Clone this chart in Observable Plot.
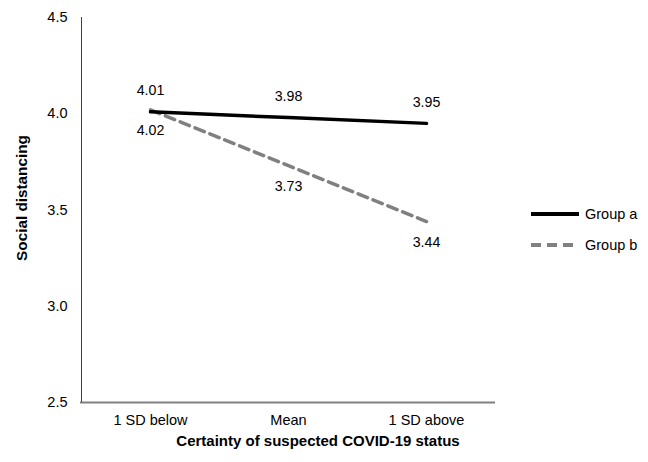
<!DOCTYPE html>
<html><head><meta charset="utf-8">
<script src="https://cdn.jsdelivr.net/npm/d3@7"></script>
<script src="https://cdn.jsdelivr.net/npm/@observablehq/plot@0.6"></script>
<style>
body{margin:0;background:#fff;font-family:"Liberation Sans",Arial,sans-serif;}
#wrap{position:relative;width:648px;height:462px;}
#legend{position:absolute;left:530px;top:198px;font-size:14.5px;color:#000;}
.item{display:flex;align-items:center;height:31px;}
.item svg{margin-right:5px;}
</style></head>
<body><div id="wrap"><div id="chart"></div><div id="legend"></div></div>
<script>
const categories = ["1 SD below", "Mean", "1 SD above"];
const groupA = [4.01, 3.98, 3.95];
const groupB = [4.02, 3.73, 3.44];
const series = ["Group a", "Group b"];
const yTicks = [2.5, 3.0, 3.5, 4.0, 4.5];
const yTitle = "Social distancing";
const xTitle = "Certainty of suspected COVID-19 status";

const rowsA = categories.map((c, i) => ({cat: c, v: groupA[i], g: series[0]}));
const rowsB = categories.map((c, i) => ({cat: c, v: groupB[i], g: series[1]}));
const fnt = "'Liberation Sans', Arial, sans-serif";

const chart = Plot.plot({
  width: 648, height: 462,
  marginLeft: 80, marginRight: 153, marginTop: 17, marginBottom: 60,
  style: {fontFamily: fnt, fontSize: "14.5px", color: "#000", background: "#fff"},
  x: {type: "point", domain: categories, padding: 0.5},
  y: {domain: [2.5, 4.5]},
  marks: [
    Plot.axisY({ticks: yTicks, tickFormat: d => d.toFixed(1), tickSize: 0, tickPadding: 13, label: null, fontSize: 14.5}),
    Plot.axisX({tickSize: 0, tickPadding: 12, label: null, fontSize: 14.5}),
    Plot.ruleY([2.5], {stroke: "#808080", strokeWidth: 1.8}),
    Plot.ruleX([categories[0]], {dx: -69, y1: 2.5, y2: 4.5, stroke: "#404040", strokeWidth: 1}),
    Plot.line(rowsB, {x: "cat", y: "v", stroke: "#808080", strokeWidth: 3.5, strokeDasharray: "10,6"}),
    Plot.line(rowsA, {x: "cat", y: "v", stroke: "#000", strokeWidth: 3.5}),
    Plot.text(rowsA, {x: "cat", y: "v", text: d => d.v.toFixed(2), dy: -21, fontSize: 14.2}),
    Plot.text(rowsB, {x: "cat", y: "v", text: d => d.v.toFixed(2), dy: 21, fontSize: 14.2}),
    Plot.text([yTitle], {frameAnchor: "left", textAnchor: "middle", rotate: -90, dx: -58, dy: -12, fontWeight: "bold", fontSize: 15.3}),
    Plot.text([xTitle], {frameAnchor: "bottom", dy: 43, dx: 30, fontWeight: "bold", fontSize: 15})
  ]
});
document.getElementById("chart").appendChild(chart);

const leg = document.getElementById("legend");
const styles = [{c: "#000", d: ""}, {c: "#808080", d: "10,6"}];
series.forEach((s, i) => {
  const it = document.createElement("div");
  it.className = "item";
  it.innerHTML = `<svg width="50" height="8"><line x1="1" y1="4" x2="49" y2="4" stroke="${styles[i].c}" stroke-width="4" stroke-dasharray="${styles[i].d}"/></svg><span>${s}</span>`;
  leg.appendChild(it);
});
</script></body></html>
